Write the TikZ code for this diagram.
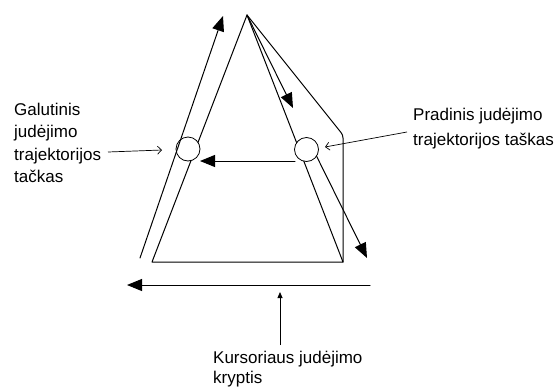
\documentclass[tikz,border=0pt]{standalone}
\usepackage{fontspec}
\setmainfont{Liberation Sans}
\usetikzlibrary{arrows.meta}
\tikzset{
  ln/.style={line width=1pt, line cap=round, line join=round},
  bigtip/.style={ln, -{Triangle[length=15pt,width=12pt]}},
  thintip/.style={line width=0.7pt, -{Straight Barb[length=4pt,width=8pt]}},
  smalltip/.style={line width=0.8pt, -{Triangle[length=6pt,width=5pt]}},
  ring/.style={circle, draw, line width=0.8pt, fill=white, minimum size=24pt, inner sep=0pt},
  lbl/.style={anchor=base west, inner sep=0pt, font=\fontsize{17}{20}\selectfont}
}
\begin{document}
\begin{tikzpicture}[x=1pt,y=-1pt]
\useasboundingbox (0,0) rectangle (559,386);
% key points
\coordinate (apex) at (247,15);
\coordinate (bl) at (152,262);
\coordinate (br) at (343,262);
\coordinate (corner) at (343,135);
\coordinate (tipA) at (293,108);
\coordinate (endA) at (367,258);
\coordinate (ls) at (140,258);
\coordinate (lt) at (223,16);
\coordinate (hs) at (295,161);
\coordinate (ht) at (200,161);
\coordinate (bs) at (370,285);
\coordinate (bt) at (127,285);
\coordinate (vs) at (280,345);
\coordinate (vt) at (280,292);
\coordinate (la1) at (108,152);
\coordinate (la2) at (162,150);
\coordinate (ra1) at (407,132);
\coordinate (ra2) at (325,147);
% trapezoid / triangle
\draw[ln] (apex) -- (bl) -- (br) -- cycle;
\draw[ln, rounded corners=3pt] (apex) -- (corner) -- (br);
% start trajectory (down right)
\draw[bigtip] (apex) -- (tipA);
\draw[bigtip] (313,149) -- (endA);
% circles
\node[ring] (lc) at (188,149) {};
\node[ring] (rc) at (306.5,149.5) {};
% end trajectory (up left)
\draw[bigtip] (ls) -- (lt);
% move between points
\draw[bigtip] (hs) -- (ht);
% cursor direction
\draw[bigtip] (bs) -- (bt);
\draw[smalltip] (vs) -- (vt);
% labels
\node[lbl] (g1) at (14,115) {Galutinis};
\node[lbl] (g2) at (14,137) {judėjimo};
\node[lbl] (g3) at (14,160) {trajektorijos};
\node[lbl] (g4) at (14,182) {tačkas};
\draw[thintip] (la1) -- (la2);
\node[lbl] (p1) at (413,120) {Pradinis judėjimo};
\node[lbl] (p2) at (413,145) {trajektorijos taškas};
\draw[thintip] (ra1) -- (ra2);
\node[lbl] (k1) at (213,363) {Kursoriaus judėjimo};
\node[lbl] (k2) at (213,383) {kryptis};
\end{tikzpicture}
\end{document}
